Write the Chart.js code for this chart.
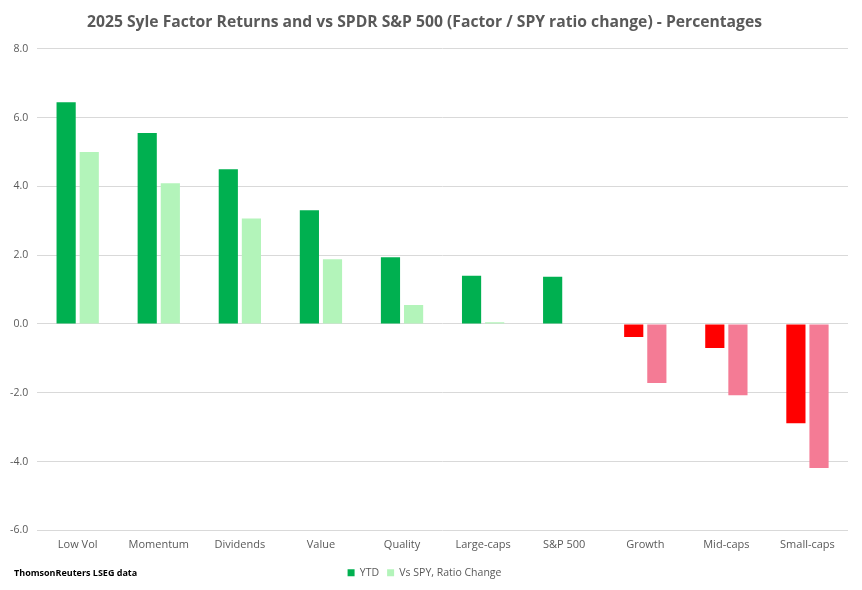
<!DOCTYPE html>
<html>
<head>
<meta charset="utf-8">
<script src="https://cdn.jsdelivr.net/npm/chart.js@4"></script>
<style>
  html, body { margin: 0; padding: 0; background: #fff; }
  #wrap { width: 862px; height: 590px; }
</style>
</head>
<body>
<div id="wrap"><canvas id="chart" width="862" height="590"></canvas></div>
<script>
// Rendimenti fattori 2025 e rapporto vs SPY
const categories = ["Low Vol", "Momentum", "Dividends", "Value", "Quality", "Large-caps", "S&P 500", "Growth", "Mid-caps", "Small-caps"];
const ytd = [6.45, 5.55, 4.5, 3.31, 1.94, 1.4, 1.37, -0.38, -0.7, -2.89];
const vsSpy = [5.0, 4.09, 3.07, 1.88, 0.55, 0.05, 0, -1.72, -2.07, -4.19];
const yTicks = [-6, -4, -2, 0, 2, 4, 6, 8];

const FONT = '"Open Sans", sans-serif';
const GREY = "#595959";

const sourceNote = {
  id: "sourceNote",
  afterDraw(chart) {
    const ctx = chart.ctx;
    ctx.save();
    ctx.font = "bold 9px " + FONT;
    ctx.fillStyle = "#000";
    ctx.textBaseline = "middle";
    ctx.fillText("ThomsonReuters LSEG data", 14, 573);
    ctx.restore();
  }
};

new Chart(document.getElementById("chart"), {
  type: "bar",
  data: {
    labels: categories,
    datasets: [
      { label: "YTD", data: ytd, backgroundColor: c => (c.raw < 0 ? "#FF0000" : "#00B050") },
      { label: "Vs SPY, Ratio Change", data: vsSpy, backgroundColor: c => (c.raw < 0 ? "#F47B95" : "#B3F4BA") },
    ],
  },
  options: {
    responsive: false,
    animation: false,
    layout: { padding: { left: 1, right: 14, top: 0, bottom: 2 } },
    categoryPercentage: 0.57,
    barPercentage: 0.83,
    plugins: {
      title: {
        display: true,
        text: "2025 Syle Factor Returns and vs SPDR S&P 500 (Factor / SPY ratio change) - Percentages",
        color: GREY,
        font: { family: FONT, size: 15.7, weight: "bold" },
        padding: { top: 13, bottom: 17 },
      },
      legend: {
        position: "bottom",
        labels: { color: GREY, font: { family: FONT, size: 10.5 }, boxWidth: 7, boxHeight: 7, padding: 8 },
      },
      tooltip: { enabled: false },
    },
    scales: {
      x: {
        grid: { display: false, drawTicks: false },
        border: { display: false },
        ticks: { color: GREY, font: { family: FONT, size: 11 }, padding: 8 },
      },
      y: {
        min: -6,
        max: 8,
        afterBuildTicks: axis => { axis.ticks = yTicks.map(v => ({ value: v })); },
        grid: { color: "#d9d9d9", drawTicks: false },
        border: { display: false },
        ticks: { color: GREY, font: { family: FONT, size: 10.5 }, padding: 9, callback: v => v.toFixed(1) },
      },
    },
  },
  plugins: [sourceNote],
});
</script>
</body>
</html>
